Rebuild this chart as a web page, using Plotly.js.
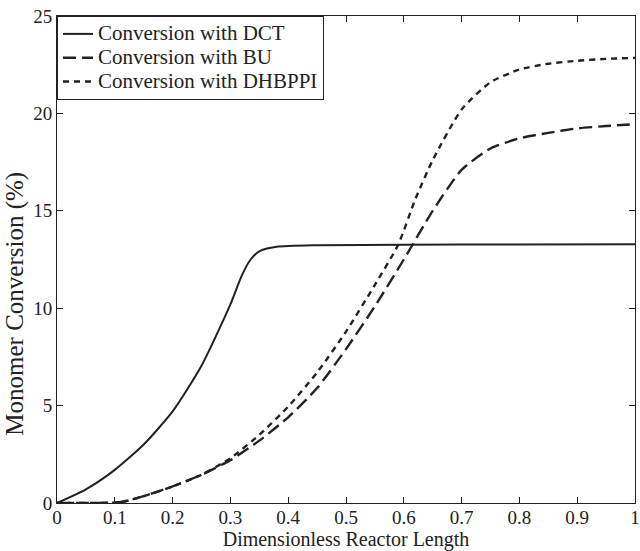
<!DOCTYPE html>
<html>
<head>
<meta charset="utf-8">
<script src="https://cdn.plot.ly/plotly-3.0.1.min.js"></script>
<style>html,body{margin:0;padding:0;background:#fff;}#chart{width:640px;height:551px;}</style>
</head>
<body>
<div id="chart"></div>
<script>
// Dimensionless reactor length vs monomer conversion (%)
const dctX = [0, 0.05, 0.1, 0.15, 0.2, 0.25, 0.3, 0.32, 0.335, 0.35, 0.38, 0.45, 0.6, 0.8, 1.0];
const dctY = [0, 0.7, 1.7, 3.0, 4.7, 7.05, 10.2, 11.7, 12.5, 12.92, 13.15, 13.23, 13.26, 13.27, 13.28];

const buX = [0, 0.05, 0.1, 0.12, 0.15, 0.2, 0.25, 0.3, 0.35, 0.4, 0.45, 0.5, 0.55, 0.6, 0.65, 0.7, 0.75, 0.8, 0.85, 0.9, 0.95, 1.0];
const buY = [0, 0, 0.02, 0.1, 0.35, 0.85, 1.45, 2.2, 3.2, 4.4, 5.9, 7.9, 10.1, 12.5, 15.0, 17.1, 18.2, 18.72, 19.0, 19.23, 19.35, 19.45];

const dhX = [0, 0.05, 0.1, 0.12, 0.15, 0.2, 0.25, 0.3, 0.35, 0.4, 0.45, 0.5, 0.55, 0.59, 0.62, 0.65, 0.7, 0.75, 0.8, 0.85, 0.9, 0.95, 1.0];
const dhY = [0, 0, 0.02, 0.1, 0.35, 0.85, 1.45, 2.3, 3.5, 4.95, 6.7, 8.8, 11.2, 13.24, 15.6, 17.6, 20.2, 21.6, 22.25, 22.55, 22.7, 22.8, 22.85];

const names = ['Conversion with DCT', 'Conversion with BU', 'Conversion with DHBPPI'];
const xTickVals = [0, 0.1, 0.2, 0.3, 0.4, 0.5, 0.6, 0.7, 0.8, 0.9, 1];
const xTickText = ['0', '0.1', '0.2', '0.3', '0.4', '0.5', '0.6', '0.7', '0.8', '0.9', '1'];
const yTickVals = [0, 5, 10, 15, 20, 25];
const xTitle = 'Dimensionless Reactor Length';
const yTitle = 'Monomer Conversion (%)';

const ink = '#222';
const legendName = n => '<span style="font-size:21px">' + n + '</span>';
const traces = [
  {x: dctX, y: dctY, name: legendName(names[0]), mode: 'lines', line: {color: ink, width: 2, shape: 'spline', smoothing: 0.6}},
  {x: buX, y: buY, name: legendName(names[1]), mode: 'lines', line: {color: ink, width: 2.4, dash: '13px,6px', shape: 'spline', smoothing: 0.6}},
  {x: dhX, y: dhY, name: legendName(names[2]), mode: 'lines', line: {color: ink, width: 2.4, dash: '6px,5px', shape: 'spline', smoothing: 0.6}}
];

const fam = '"Liberation Serif", "Times New Roman", serif';
const tickFont = {family: fam, size: 19, color: ink};
const layout = {
  width: 640, height: 551,
  margin: {l: 57, r: 5, t: 16, b: 48},
  paper_bgcolor: '#fff', plot_bgcolor: '#fff',
  font: {family: fam, size: 19, color: ink},
  showlegend: true,
  legend: {x: 0, y: 1, xanchor: 'left', yanchor: 'top', bgcolor: '#fff',
           bordercolor: ink, borderwidth: 1, font: {family: fam, size: 16, color: ink}, tracegroupgap: 0},
  xaxis: {
    range: [0, 1], tickvals: xTickVals, ticktext: xTickText,
    ticks: 'inside', ticklen: 6, tickcolor: ink, showgrid: false, zeroline: false,
    showline: true, linecolor: ink, linewidth: 1, mirror: 'ticks',
    ticklabeloverflow: 'allow', ticklabelstandoff: -3,
    title: {text: xTitle, font: {family: fam, size: 20, color: ink}, standoff: 3},
    tickfont: tickFont
  },
  yaxis: {
    range: [0, 25], tickvals: yTickVals,
    ticks: 'inside', ticklen: 6, tickcolor: ink, showgrid: false, zeroline: false,
    showline: true, linecolor: ink, linewidth: 1, mirror: 'ticks',
    tickfont: tickFont
  },
  annotations: [{
    text: yTitle, textangle: -90, showarrow: false,
    xref: 'paper', yref: 'paper', x: -0.072, y: 0.41, xanchor: 'center', yanchor: 'middle',
    font: {family: fam, size: 25, color: ink}
  }]
};
Plotly.newPlot('chart', traces, layout, {displayModeBar: false, staticPlot: true});
</script>
</body>
</html>
